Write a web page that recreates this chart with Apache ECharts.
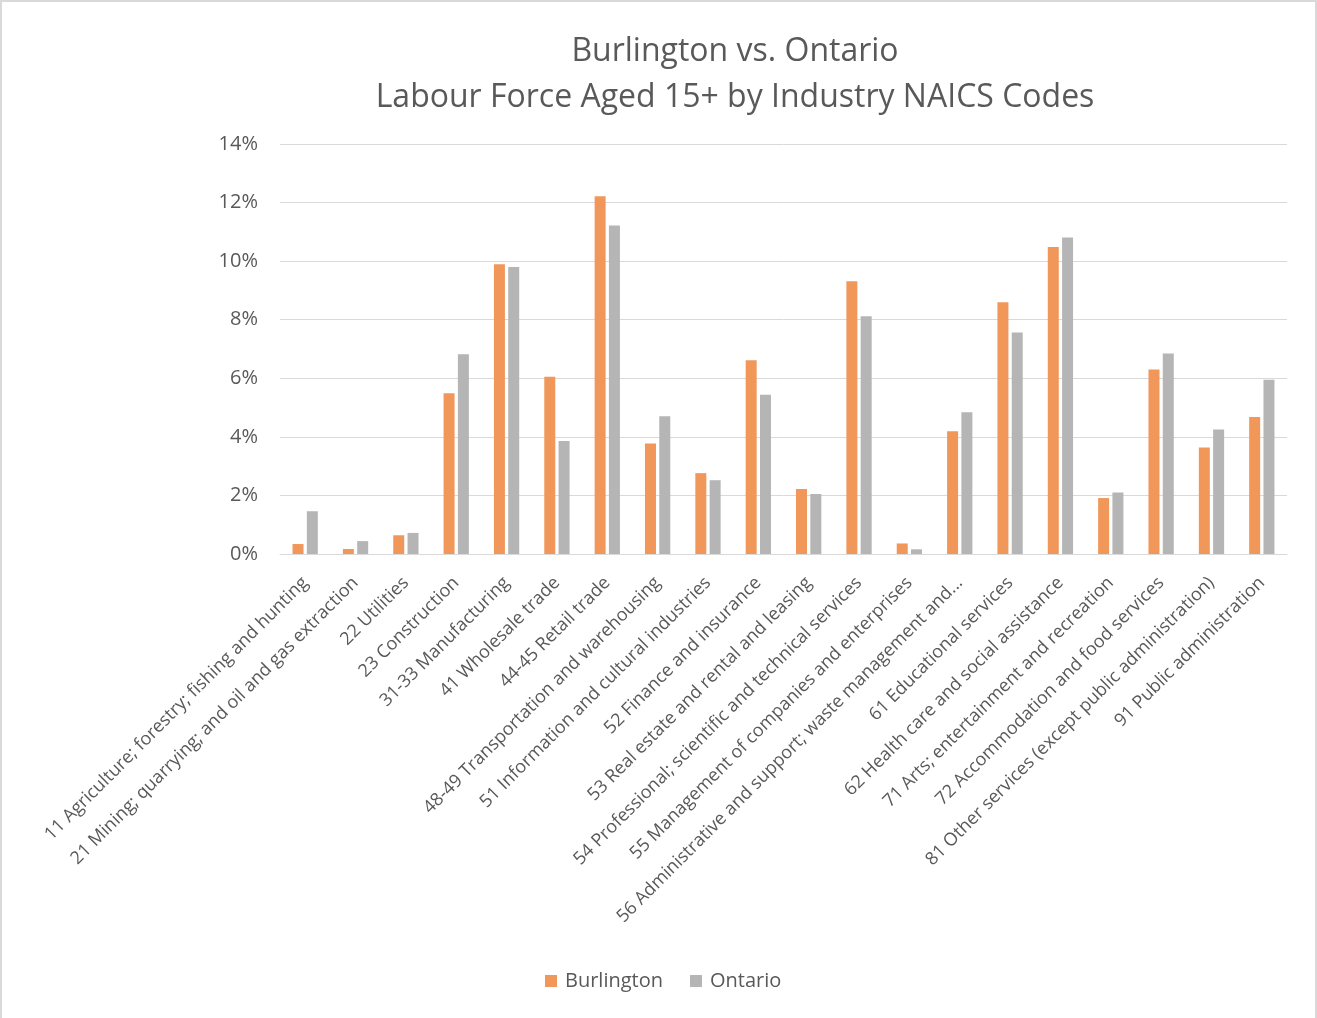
<!DOCTYPE html>
<html>
<head>
<meta charset="utf-8">
<script src="https://cdn.jsdelivr.net/npm/echarts@6/dist/echarts.min.js"></script>
<style>
  html, body { margin: 0; padding: 0; background: #fff; }
  #chart { width: 1317px; height: 1018px; box-sizing: border-box; border-left: 2px solid #d9d9d9; border-top: 2px solid #d9d9d9; border-right: 2px solid #d9d9d9; }
</style>
</head>
<body>
<div id="chart"></div>
<script>
const categories = [
  "11 Agriculture; forestry; fishing and hunting",
  "21 Mining; quarrying; and oil and gas extraction",
  "22 Utilities",
  "23 Construction",
  "31-33 Manufacturing",
  "41 Wholesale trade",
  "44-45 Retail trade",
  "48-49 Transportation and warehousing",
  "51 Information and cultural industries",
  "52 Finance and insurance",
  "53 Real estate and rental and leasing",
  "54 Professional; scientific and technical services",
  "55 Management of companies and enterprises",
  "56 Administrative and support; waste management and...",
  "61 Educational services",
  "62 Health care and social assistance",
  "71 Arts; entertainment and recreation",
  "72 Accommodation and food services",
  "81 Other services (except public administration)",
  "91 Public administration"
];
const burlington = [0.34, 0.17, 0.64, 5.49, 9.89, 6.05, 12.22, 3.77, 2.76, 6.62, 2.22, 9.31, 0.36, 4.19, 8.60, 10.48, 1.91, 6.30, 3.64, 4.68];
const ontario    = [1.46, 0.44, 0.72, 6.82, 9.80, 3.86, 11.22, 4.70, 2.52, 5.44, 2.05, 8.12, 0.16, 4.84, 7.56, 10.81, 2.10, 6.85, 4.25, 5.95];
const yTicks = [0, 2, 4, 6, 8, 10, 12, 14];

const FONT = "'Open Sans', 'Liberation Sans', sans-serif";
const TXT = '#595959';
const chart = echarts.init(document.getElementById('chart'));
chart.setOption({
  animation: false,
  textStyle: { fontFamily: FONT },
  title: {
    text: 'Burlington vs. Ontario\nLabour Force Aged 15+ by Industry NAICS Codes',
    left: 728, top: 22, textAlign: 'center',
    textStyle: { fontFamily: FONT, fontSize: 32, fontWeight: 'normal', color: TXT, lineHeight: 46 }
  },
  legend: {
    data: ['Burlington', 'Ontario'],
    top: 964, left: 538,
    icon: 'rect', itemWidth: 12, itemHeight: 12, itemGap: 27,
    textStyle: { fontFamily: FONT, fontSize: 20, color: TXT, padding: [0, 0, 0, 3] }
  },
  grid: { left: 278, right: 28, top: 142, bottom: 464, containLabel: false },
  xAxis: {
    type: 'category', data: categories,
    axisLine: { lineStyle: { color: '#d9d9d9', width: 1 } },
    axisTick: { show: false },
    axisLabel: { interval: 0, rotate: 45, fontFamily: FONT, fontSize: 18, color: TXT, margin: 26 }
  },
  yAxis: {
    type: 'value', min: 0, max: 14, interval: 2,
    axisLine: { show: false }, axisTick: { show: false },
    splitLine: { lineStyle: { color: '#d9d9d9', width: 1 } },
    axisLabel: { formatter: v => yTicks.includes(v) ? v + '%' : '', fontFamily: FONT, fontSize: 20, color: TXT, margin: 22 }
  },
  series: [
    { name: 'Burlington', type: 'bar', data: burlington, barWidth: 11, barGap: '30%', itemStyle: { color: '#F1975A' } },
    { name: 'Ontario', type: 'bar', data: ontario, barWidth: 11, itemStyle: { color: '#B5B5B5' } }
  ]
});
</script>
</body>
</html>
